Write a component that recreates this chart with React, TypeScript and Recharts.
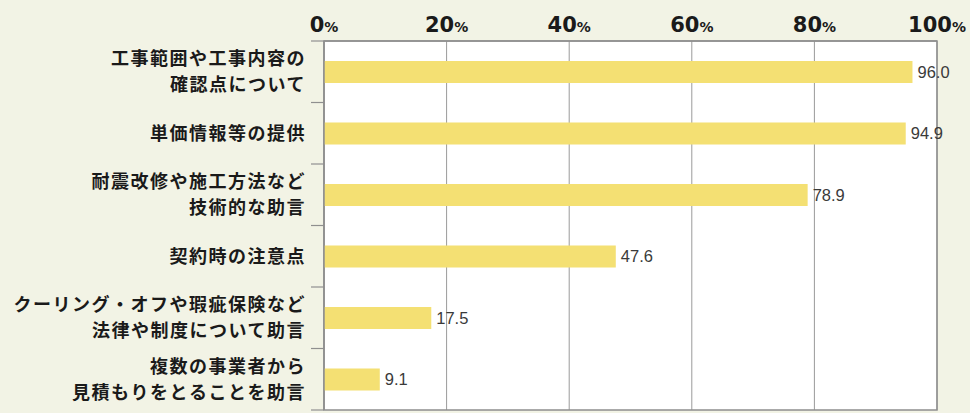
import React from "react";
import { BarChart, Bar, XAxis, YAxis, CartesianGrid, LabelList, ReferenceArea } from "recharts";

const categories: string[] = [
  "工事範囲や工事内容の\n確認点について",
  "単価情報等の提供",
  "耐震改修や施工方法など\n技術的な助言",
  "契約時の注意点",
  "クーリング・オフや瑕疵保険など\n法律や制度について助言",
  "複数の事業者から\n見積もりをとることを助言",
];
const values: number[] = [96.0, 94.9, 78.9, 47.6, 17.5, 9.1];
const xTicks: number[] = [0, 20, 40, 60, 80, 100];

const data = categories.map((name, i) => ({ name, value: values[i] }));

const W = 970;
const H = 413;
const PLOT_LEFT = 324;
const PLOT_TOP = 41;
const PLOT_RIGHT = 937;
const PLOT_BOTTOM = 410;
const BAND = (PLOT_BOTTOM - PLOT_TOP) / categories.length;
const GRAY = "#8f8f8f";
const FONT_JP = "'Noto Sans CJK JP', 'Noto Sans', sans-serif";
const FONT_NUM = "'Liberation Sans', Arial, sans-serif";
const FONT_TICK = "'DejaVu Sans', sans-serif";

const YTick = (props: any) => {
  const { y, payload, index } = props;
  const lines = String(payload.value).split("\n");
  const lh = 26;
  const start = y - ((lines.length - 1) * lh) / 2;
  return (
    <g>
      <line x1={PLOT_LEFT - 13} x2={PLOT_LEFT} y1={y - BAND / 2} y2={y - BAND / 2} stroke={GRAY} strokeWidth={1.2} />
      {index === categories.length - 1 && (
        <line x1={PLOT_LEFT - 13} x2={PLOT_LEFT} y1={y + BAND / 2} y2={y + BAND / 2} stroke={GRAY} strokeWidth={1.2} />
      )}
      {lines.map((l, i) => (
        <text
          key={i}
          x={PLOT_LEFT - 18}
          y={start + i * lh + 6.5}
          textAnchor="end"
          fontFamily={FONT_JP}
          fontWeight={700}
          fontSize={18}
          letterSpacing={1.5}
          fill="#1a1a1a"
        >
          {l}
        </text>
      ))}
    </g>
  );
};

const XTick = (props: any) => {
  const { x, payload } = props;
  return (
    <text x={x} y={32} textAnchor="middle" fontFamily={FONT_TICK} fontWeight={700} fill="#1a1a1a">
      <tspan fontSize={21}>{payload.value}</tspan>
      <tspan fontSize={14}>%</tspan>
    </text>
  );
};

export default function App() {
  return (
    <div style={{ position: "fixed", left: 0, top: 0, width: W, height: H, background: "#f2f3e5" }}>
      <BarChart
        width={W}
        height={H}
        data={data}
        layout="vertical"
        margin={{ top: 0, right: W - PLOT_RIGHT, bottom: H - PLOT_BOTTOM, left: 0 }}
        barCategoryGap={0}
      >
        <CartesianGrid horizontal={false} vertical stroke="#9a9a9a" fill="#ffffff" />
        <XAxis
          type="number"
          orientation="top"
          domain={[0, 100]}
          ticks={xTicks}
          height={PLOT_TOP}
          axisLine={{ stroke: GRAY, strokeWidth: 1.5 }}
          tickLine={false}
          tick={<XTick />}
          interval={0}
        />
        <YAxis
          type="category"
          dataKey="name"
          width={PLOT_LEFT}
          axisLine={{ stroke: GRAY, strokeWidth: 1.5 }}
          tickLine={false}
          tick={<YTick />}
          interval={0}
        />
        <ReferenceArea x1={0} x2={100} fill="none" stroke={GRAY} strokeWidth={1.5} ifOverflow="visible" />
        <Bar dataKey="value" fill="#f4e073" barSize={22} isAnimationActive={false}>
          <LabelList
            dataKey="value"
            position="right"
            offset={5}
            formatter={(v: any) => Number(v).toFixed(1)}
            fontFamily={FONT_NUM}
            fontSize={16.5}
            fill="#3a3a3a"
          />
        </Bar>
      </BarChart>
    </div>
  );
}
